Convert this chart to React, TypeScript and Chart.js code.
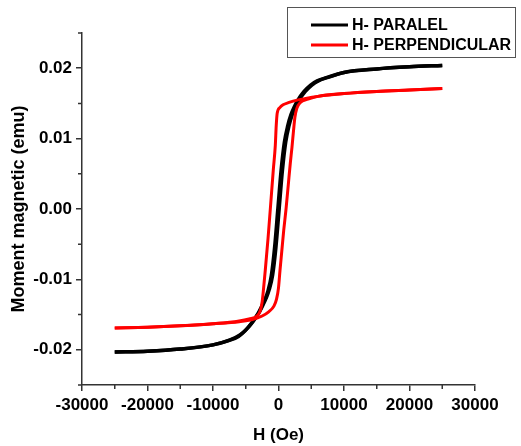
import React, { useEffect, useRef } from "react";
import { Chart, registerables } from "chart.js";

Chart.register(...registerables);

// H-PARALEL, ascending branch (H in Oe, moment in emu)
const PAR_UP_H = [-25000, -20000, -15000, -10000, -7400, -5900, -4900, -3900, -2900, -2400, -1900, -1400, -900, -400, 100, 600, 1100, 1600, 2100, 2600, 3100, 4100, 5100, 6100, 7600, 10000, 15000, 20000, 25000];
const PAR_UP_M = [-0.0203, -0.0202, -0.0199, -0.0193, -0.0186, -0.0179, -0.0171, -0.0160, -0.0146, -0.0137, -0.0127, -0.0114, -0.0094, -0.0055, 0.0000, 0.0055, 0.0095, 0.0118, 0.0134, 0.0145, 0.0154, 0.0167, 0.0176, 0.0182, 0.0187, 0.0194, 0.0199, 0.0202, 0.0204];
// H-PARALEL, descending branch
const PAR_DOWN_H = [-25000, -20000, -15000, -10000, -7600, -6100, -5100, -4100, -3100, -2600, -2100, -1600, -1100, -600, -100, 400, 900, 1400, 1900, 2400, 2900, 3900, 4900, 5900, 7400, 10000, 15000, 20000, 25000];
const PAR_DOWN_M = [-0.0203, -0.0202, -0.0199, -0.0193, -0.0187, -0.0181, -0.0173, -0.0162, -0.0148, -0.0139, -0.0129, -0.0116, -0.0095, -0.0055, 0.0000, 0.0055, 0.0095, 0.0118, 0.0134, 0.0145, 0.0154, 0.0167, 0.0176, 0.0182, 0.0187, 0.0194, 0.0199, 0.0202, 0.0204];

// H-PERPENDICULAR, descending branch
const PERP_DOWN_H = [-25000, -20000, -15000, -10000, -6000, -4500, -3300, -2800, -2500, -2300, -2020, -1600, -1250, -800, -490, -350, -200, 200, 700, 1500, 3000, 6000, 10000, 15000, 20000, 25000];
const PERP_DOWN_M = [-0.0169, -0.0168, -0.0166, -0.0163, -0.0159, -0.0156, -0.0152, -0.0145, -0.0132, -0.0115, -0.0087, -0.0042, 0.0000, 0.0055, 0.0090, 0.0118, 0.0136, 0.0144, 0.0148, 0.0151, 0.0155, 0.0160, 0.0164, 0.0167, 0.0169, 0.0171];
// H-PERPENDICULAR, ascending branch
const PERP_UP_H = [-25000, -20000, -15000, -10000, -6000, -4000, -2500, -1500, -700, -300, 0, 230, 500, 800, 1150, 1500, 1800, 2060, 2300, 2500, 2800, 3300, 4500, 6000, 10000, 15000, 20000, 25000];
const PERP_UP_M = [-0.0169, -0.0168, -0.0166, -0.0163, -0.0160, -0.0157, -0.0152, -0.0146, -0.0138, -0.0128, -0.0112, -0.0087, -0.0060, -0.0030, 0.0000, 0.0035, 0.0065, 0.0088, 0.0112, 0.0130, 0.0143, 0.0151, 0.0156, 0.0160, 0.0164, 0.0167, 0.0169, 0.0171];

const SERIES_NAMES = ["H- PARALEL", "H- PERPENDICULAR"];
const SERIES_COLORS = ["#000000", "#ff0000"];

const X_TICKS = [-30000, -20000, -10000, 0, 10000, 20000, 30000];
const X_MINOR = [-25000, -15000, -5000, 5000, 15000, 25000];
const Y_TICKS = [-0.02, -0.01, 0, 0.01, 0.02];
const Y_MINOR = [-0.025, -0.015, -0.005, 0.005, 0.015, 0.025];

const FONT = "'Liberation Sans', Arial, sans-serif";
const AXIS_COLOR = "#333333";

function pts(hs: number[], ms: number[]) {
  return hs.map((h, i) => ({ x: h, y: ms[i] }));
}

const minorTicksPlugin = {
  id: "minorTicks",
  afterDraw(chart: any) {
    const ctx = chart.ctx;
    const xs = chart.scales.x;
    const ys = chart.scales.y;
    const area = chart.chartArea;
    ctx.save();
    ctx.strokeStyle = AXIS_COLOR;
    ctx.lineWidth = 1.5;
    ctx.beginPath();
    X_MINOR.forEach((v) => {
      const px = xs.getPixelForValue(v);
      ctx.moveTo(px, area.bottom);
      ctx.lineTo(px, area.bottom + 4);
    });
    Y_MINOR.forEach((v) => {
      const py = ys.getPixelForValue(v);
      ctx.moveTo(area.left, py);
      ctx.lineTo(area.left - 4, py);
    });
    ctx.stroke();
    ctx.restore();
  },
};

const boxLegendPlugin = {
  id: "boxLegend",
  afterDraw(chart: any) {
    const ctx = chart.ctx;
    ctx.save();
    ctx.strokeStyle = "#555555";
    ctx.lineWidth = 1;
    ctx.strokeRect(287.5, 7.5, 228, 50);
    ctx.font = `bold 16px ${FONT}`;
    ctx.textBaseline = "middle";
    ctx.textAlign = "left";
    SERIES_NAMES.forEach((name, i) => {
      const y = 25 + i * 20;
      ctx.strokeStyle = SERIES_COLORS[i];
      ctx.lineWidth = 3;
      ctx.beginPath();
      ctx.moveTo(311, y);
      ctx.lineTo(348, y);
      ctx.stroke();
      ctx.fillStyle = "#000000";
      ctx.fillText(name, 352, y + 1);
    });
    ctx.restore();
  },
};

export default function App() {
  const canvasRef = useRef<HTMLCanvasElement | null>(null);

  useEffect(() => {
    const canvas = canvasRef.current;
    if (!canvas) return;
    const lineDs = (label: string, color: string, width: number, data: any[]) => ({
      label,
      data,
      showLine: true,
      borderColor: color,
      backgroundColor: color,
      borderWidth: width,
      pointRadius: 0,
      fill: false,
      cubicInterpolationMode: "monotone" as const,
    });
    const chart = new Chart(canvas, {
      type: "scatter",
      data: {
        datasets: [
          lineDs(SERIES_NAMES[1], SERIES_COLORS[1], 3, pts(PERP_DOWN_H, PERP_DOWN_M)),
          lineDs(SERIES_NAMES[1], SERIES_COLORS[1], 3, pts(PERP_UP_H, PERP_UP_M)),
          lineDs(SERIES_NAMES[0], SERIES_COLORS[0], 3.5, pts(PAR_UP_H, PAR_UP_M)),
          lineDs(SERIES_NAMES[0], SERIES_COLORS[0], 3.5, pts(PAR_DOWN_H, PAR_DOWN_M)),
        ],
      },
      options: {
        responsive: false,
        animation: false,
        layout: { padding: { left: 0, right: 46, top: 33, bottom: 0 } },
        plugins: { legend: { display: false }, tooltip: { enabled: false } },
        scales: {
          x: {
            type: "linear",
            min: -30000,
            max: 30000,
            afterBuildTicks: (s: any) => {
              s.ticks = X_TICKS.map((v) => ({ value: v }));
            },
            afterFit: (s: any) => {
              s.height = 61;
            },
            border: { display: true, color: AXIS_COLOR, width: 1.5 },
            grid: { drawOnChartArea: false, drawTicks: true, tickLength: 6, color: AXIS_COLOR, lineWidth: 1.5 },
            ticks: {
              color: "#000000",
              padding: 4,
              maxRotation: 0,
              autoSkip: false,
              font: { family: FONT, size: 17, weight: "bold" },
              callback: (v: any) => String(v),
            },
            title: {
              display: true,
              text: "H (Oe)",
              color: "#000000",
              padding: { top: 0, bottom: 0 },
              font: { family: FONT, size: 17, weight: "bold" },
            },
          },
          y: {
            type: "linear",
            min: -0.025,
            max: 0.025,
            afterBuildTicks: (s: any) => {
              s.ticks = Y_TICKS.map((v) => ({ value: v }));
            },
            afterFit: (s: any) => {
              s.width = 82;
            },
            border: { display: true, color: AXIS_COLOR, width: 1.5 },
            grid: { drawOnChartArea: false, drawTicks: true, tickLength: 6, color: AXIS_COLOR, lineWidth: 1.5 },
            ticks: {
              color: "#000000",
              padding: 4,
              autoSkip: false,
              font: { family: FONT, size: 17, weight: "bold" },
              callback: (v: any) => Number(v).toFixed(2),
            },
            title: {
              display: true,
              text: "Moment magnetic (emu)",
              color: "#000000",
              padding: { top: 8, bottom: 0 },
              font: { family: FONT, size: 18, weight: "bold" },
            },
          },
        },
      },
      plugins: [minorTicksPlugin, boxLegendPlugin],
    });
    return () => chart.destroy();
  }, []);

  return (
    <div style={{ position: "fixed", left: 0, top: 0, width: 521, height: 446, background: "#ffffff" }}>
      <canvas ref={canvasRef} width={521} height={446} style={{ display: "block" }} />
    </div>
  );
}
